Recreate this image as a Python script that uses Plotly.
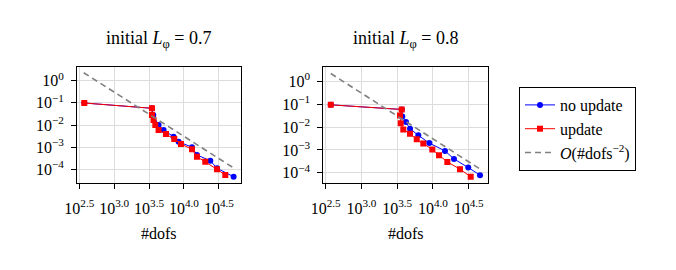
import plotly.graph_objects as go

# ---- data ----
# panel 1: initial L_phi = 0.7
dofs_noupd_1 = [373, 3475, 3631, 4325, 5105, 7096, 8375, 13032, 15346, 23823, 29717, 51404]
err_noupd_1 = [0.0984, 0.0568, 0.0282, 0.0100, 0.00594, 0.00296, 0.00176, 0.000984, 0.000443, 0.000244, 0.000111, 0.0000463]
dofs_upd_1 = [373, 3475, 3475, 3664, 3882, 4325, 5521, 7261, 9057, 13032, 15346, 20184, 29717, 39084]
err_upd_1 = [0.0984, 0.0568, 0.0282, 0.0168, 0.0100, 0.00594, 0.00393, 0.00233, 0.00139, 0.000800, 0.000371, 0.000220, 0.000100, 0.0000553]
ref_dofs_1 = [365, 51400]
ref_err_1 = [2.293, 0.0001156]

# panel 2: initial L_phi = 0.8
dofs_noupd_2 = [372, 3656, 3724, 4198, 4775, 6237, 8892, 14723, 19679, 31189, 45499]
err_noupd_2 = [0.094, 0.0589, 0.0292, 0.0166, 0.00851, 0.00437, 0.00200, 0.000912, 0.000407, 0.000170, 0.0000794]
dofs_upd_2 = [372, 3656, 3459, 3540, 3846, 4775, 5929, 7328, 9795, 12162, 15888, 23878, 33729]
err_upd_2 = [0.094, 0.0589, 0.0324, 0.0149, 0.00776, 0.00513, 0.00292, 0.00191, 0.00105, 0.000589, 0.000302, 0.000145, 0.0000676]
ref_dofs_2 = [372, 45500]
ref_err_2 = [2.207, 0.0001476]

titles = ["initial <i>L</i><sub>φ</sub> = 0.7", "initial <i>L</i><sub>φ</sub> = 0.8"]
x_tick_exps = [2.5, 3.0, 3.5, 4.0, 4.5]
y_tick_exps = [0, -1, -2, -3, -4]

FONT = "Liberation Serif"
W, H = 676, 270
OFF = 8  # default page margin of the html body


def px(x):
    return (x - OFF) / W


def py(y):
    return 1 - (y - OFF) / H


fig = go.Figure()

panels = [
    (dofs_noupd_1, err_noupd_1, dofs_upd_1, err_upd_1, ref_dofs_1, ref_err_1),
    (dofs_noupd_2, err_noupd_2, dofs_upd_2, err_upd_2, ref_dofs_2, ref_err_2),
]
for i, (dn, en, du, eu, rd, re) in enumerate(panels):
    xa = "x" if i == 0 else "x2"
    ya = "y" if i == 0 else "y2"
    show = i == 0
    fig.add_trace(go.Scatter(x=dn, y=en, mode="lines+markers", name="no update",
                             line=dict(color="#0000ff", width=1),
                             marker=dict(symbol="circle", size=6, color="#0000ff"),
                             xaxis=xa, yaxis=ya, showlegend=show))
    fig.add_trace(go.Scatter(x=du, y=eu, mode="lines+markers", name="update",
                             line=dict(color="#ff0000", width=1),
                             marker=dict(symbol="square", size=6, color="#ff0000"),
                             xaxis=xa, yaxis=ya, showlegend=show))
    fig.add_trace(go.Scatter(x=rd, y=re, mode="lines", name="<i>O</i>(#dofs<sup>−2</sup>)",
                             line=dict(color="#808080", width=1.6, dash="6px,4px"),
                             xaxis=xa, yaxis=ya, showlegend=show))

x_ticktext = ["10<sup>%.1f</sup>" % e for e in x_tick_exps]
y_ticktext = ["10<sup>%s</sup>" % (str(e).replace("-", "−")) for e in y_tick_exps]

axis_style = dict(type="log", showline=True, linecolor="black", linewidth=1, mirror=True,
                  ticks="outside", ticklen=5, tickcolor="black", tickwidth=1,
                  showgrid=True, gridcolor="#dcdcdc", gridwidth=1, zeroline=False,
                  automargin=False, tickfont=dict(family=FONT, size=16, color="black"))
common_x = dict(axis_style, tickvals=[10 ** e for e in x_tick_exps], ticktext=x_ticktext,
                ticklabelstandoff=6)
common_y = dict(axis_style, tickvals=[10 ** e for e in y_tick_exps], ticktext=y_ticktext,
                ticklabelstandoff=4)

dom_x1 = [px(77), px(241)]
dom_x2 = [px(323.3), px(488.3)]
dom_y = [py(182.7), py(66.7)]

fig.update_layout(
    width=W, height=H,
    margin=dict(l=0, r=0, t=0, b=0),
    paper_bgcolor="white", plot_bgcolor="white",
    font=dict(family=FONT, size=16, color="black"),
    xaxis=dict(common_x, domain=dom_x1, range=[2.467, 4.817], anchor="y"),
    yaxis=dict(common_y, domain=dom_y, range=[-4.605, 0.632], anchor="x"),
    xaxis2=dict(common_x, domain=dom_x2, range=[2.466, 4.774], anchor="y2"),
    yaxis2=dict(common_y, domain=dom_y, range=[-4.43, 0.64], anchor="x2"),
    legend=dict(x=px(519), y=py(87), xanchor="left", yanchor="top",
                bordercolor="black", borderwidth=1, bgcolor="white",
                font=dict(family=FONT, size=16, color="black"),
                tracegroupgap=0, itemwidth=30),
    showlegend=True,
)

for dom, t in zip([dom_x1, dom_x2], titles):
    cx = (dom[0] + dom[1]) / 2
    fig.add_annotation(x=cx, y=py(40), xref="paper", yref="paper", text=t,
                       showarrow=False, xanchor="center", yanchor="middle",
                       font=dict(family=FONT, size=18, color="black"))
    fig.add_annotation(x=cx, y=py(233), xref="paper", yref="paper", text="#dofs",
                       showarrow=False, xanchor="center", yanchor="middle",
                       font=dict(family=FONT, size=16, color="black"))

fig.write_html("out.html")
